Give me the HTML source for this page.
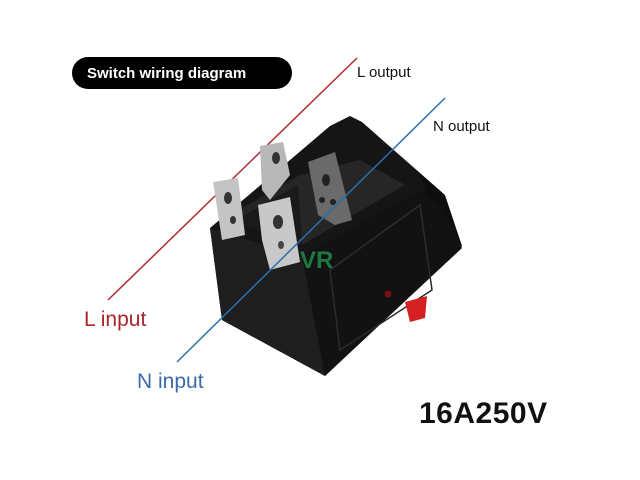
<!DOCTYPE html>
<html><head><meta charset="utf-8"><style>
html,body{margin:0;padding:0;background:#fff;}
svg{display:block;}
text{font-family:"Liberation Sans","DejaVu Sans",sans-serif;}
</style></head><body>
<svg width="640" height="480" viewBox="0 0 640 480">
<rect width="640" height="480" fill="#fff"/>
<!-- title pill -->
<rect x="72" y="57" width="220" height="32" rx="16" fill="#000"/>
<text x="87" y="78" font-size="15" font-weight="bold" fill="#fff">Switch wiring diagram</text>
<!-- red line back part -->
<line x1="357" y1="58" x2="108" y2="300" stroke="#b02a30" stroke-width="1.5"/>
<!-- switch body -->
<polygon points="210,228 330,126 350,116 362,122 420,173 462,246 325,376 222,320" fill="#151515"/>
<polygon points="420,173 445,195 462,246 440,240" fill="#0e0e0e"/>
<polygon points="210,228 302,256 325,376 222,320" fill="#1e1e1e"/>
<polygon points="302,256 420,190 440,205 462,248 325,376" fill="#121212"/>
<polygon points="330,270 420,205 432,290 340,350" fill="none" stroke="#2c2c2c" stroke-width="1.5"/>
<polygon points="230,215 300,175 360,160 405,185 302,245" fill="#262626"/>
<polygon points="232,222 298,185 302,245" fill="#1a1a1a"/>
<!-- terminals -->
<polygon points="260,146 283,142 290,175 270,200 262,190" fill="#b8b8b8"/>
<ellipse cx="276" cy="158" rx="4" ry="6" fill="#333"/>
<polygon points="213,182 238,178 245,235 222,240" fill="#c4c4c4"/>
<ellipse cx="228" cy="198" rx="4" ry="6" fill="#333"/>
<ellipse cx="233" cy="220" rx="3" ry="4" fill="#333"/>
<polygon points="308,162 335,152 352,220 335,225 318,215" fill="#6a6a6a"/>
<ellipse cx="326" cy="180" rx="4" ry="6" fill="#222"/>
<circle cx="322" cy="200" r="3" fill="#222"/>
<circle cx="333" cy="202" r="3" fill="#222"/>
<polygon points="258,205 290,197 300,262 270,270 262,240" fill="#c8c8c8"/>
<ellipse cx="278" cy="222" rx="5" ry="7" fill="#333"/>
<ellipse cx="281" cy="245" rx="3" ry="4" fill="#444"/>
<!-- red button -->
<polygon points="405,302 427,296 425,318 410,322" fill="#d42020"/>
<circle cx="388" cy="294" r="3.5" fill="#7a1010"/>
<!-- watermark -->
<text x="300" y="268" font-size="24" font-weight="bold" fill="#1f8a4a" opacity="0.85">VR</text>
<!-- blue line -->
<line x1="445" y1="98" x2="177" y2="362" stroke="#2f6db0" stroke-width="1.5"/>
<!-- labels -->
<text x="357" y="77" font-size="15" fill="#111">L output</text>
<text x="433" y="131" font-size="15" fill="#111">N output</text>
<text x="84" y="326" font-size="21" fill="#a8272d">L input</text>
<text x="137" y="388" font-size="21" fill="#3a6aa8">N input</text>
<text x="419" y="423" font-size="30" font-weight="bold" fill="#111" letter-spacing="0.5">16A250V</text>
</svg>
</body></html>
